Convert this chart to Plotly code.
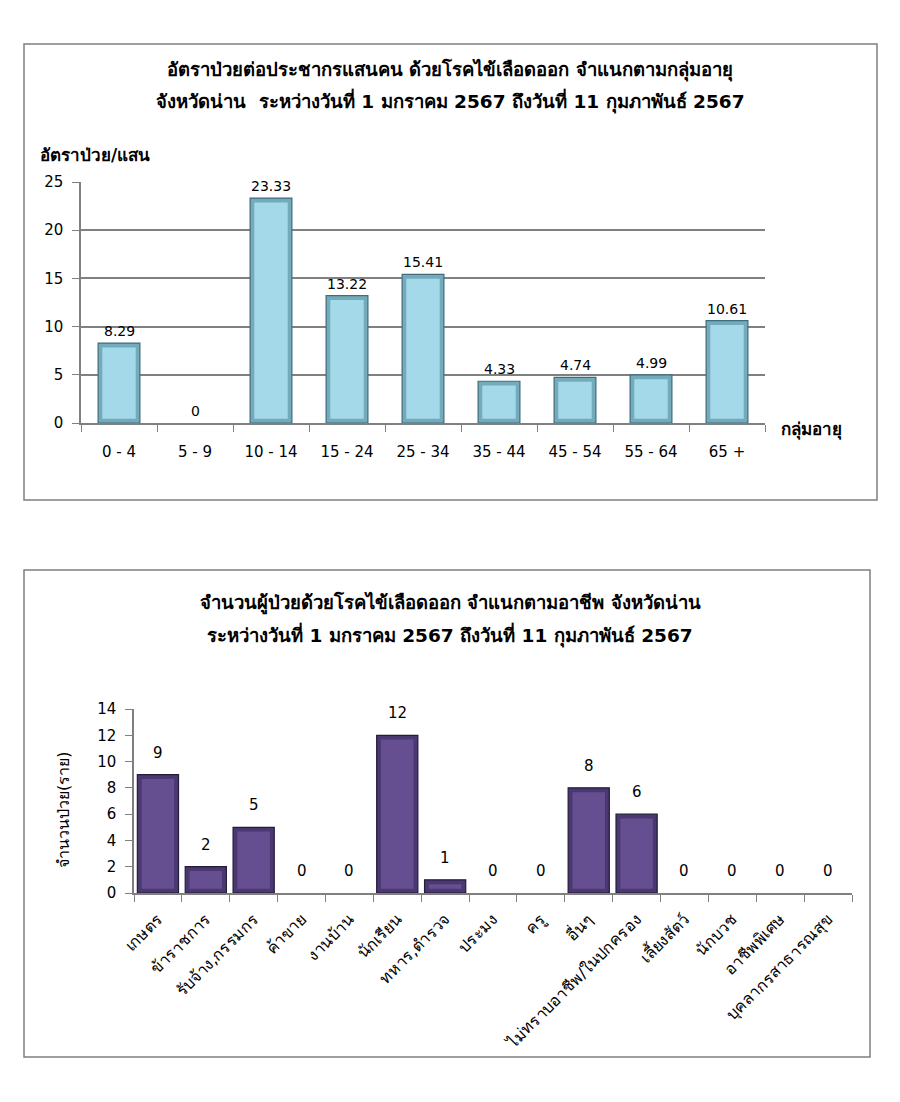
import plotly.graph_objects as go

# ---- data ----
age_groups = ["0 - 4", "5 - 9", "10 - 14", "15 - 24", "25 - 34", "35 - 44", "45 - 54", "55 - 64", "65 +"]
age_rates = [8.29, 0, 23.33, 13.22, 15.41, 4.33, 4.74, 4.99, 10.61]

occupations = ["เกษตร", "ข้าราชการ", "รับจ้าง,กรรมกร", "ค้าขาย", "งานบ้าน", "นักเรียน", "ทหาร,ตำรวจ",
               "ประมง", "ครู", "อื่นๆ", "ไม่ทราบอาชีพ/ในปกครอง", "เลี้ยงสัตว์", "นักบวช",
               "อาชีพพิเศษ", "บุคลากรสาธารณสุข"]
occ_counts = [9, 2, 5, 0, 0, 12, 1, 0, 0, 8, 6, 0, 0, 0, 0]

title1_l1 = "อัตราป่วยต่อประชากรแสนคน ด้วยโรคไข้เลือดออก จำแนกตามกลุ่มอายุ"
title1_l2 = "จังหวัดน่าน  ระหว่างวันที่ 1 มกราคม 2567 ถึงวันที่ 11 กุมภาพันธ์ 2567"
title2_l1 = "จำนวนผู้ป่วยด้วยโรคไข้เลือดออก จำแนกตามอาชีพ จังหวัดน่าน"
title2_l2 = "ระหว่างวันที่ 1 มกราคม 2567 ถึงวันที่ 11 กุมภาพันธ์ 2567"

W, H = 900, 1102
def px(x): return x / W
def py(y): return 1 - y / H

FONT = "Tahoma, DejaVu Sans, Noto Sans, sans-serif"

BEVEL1 = 0.45  # bevel depth in data units of chart 1
BEVEL2 = 0.33  # bevel depth in data units of chart 2

fig = go.Figure()

# chart 1: outer (edge) bar + inner lighter face
fig.add_trace(go.Bar(
    x=age_groups, y=age_rates, xaxis="x", yaxis="y",
    marker=dict(color="#74abbb", line=dict(color="#3f6d7c", width=[1.2 if v > 0 else 0 for v in age_rates])),
    width=0.55, hoverinfo="x+y", showlegend=False,
))
fig.add_trace(go.Bar(
    x=age_groups, y=[v - 2 * BEVEL1 if v > 2 * BEVEL1 else None for v in age_rates],
    base=BEVEL1, xaxis="x", yaxis="y",
    marker=dict(color="#a3d9e8", line=dict(width=0)),
    width=0.44, hoverinfo="skip", showlegend=False,
))
# chart 2
fig.add_trace(go.Bar(
    x=occupations, y=occ_counts, xaxis="x2", yaxis="y2",
    marker=dict(color="#4a3870", line=dict(color="#251b3a", width=[1.2 if v > 0 else 0 for v in occ_counts])),
    width=0.86, hoverinfo="x+y", showlegend=False,
))
fig.add_trace(go.Bar(
    x=occupations, y=[v - 2 * BEVEL2 if v > 2 * BEVEL2 else None for v in occ_counts],
    base=BEVEL2, xaxis="x2", yaxis="y2",
    marker=dict(color="#654f91", line=dict(width=0)),
    width=0.68, hoverinfo="skip", showlegend=False,
))

annotations = []
for c, v in zip(age_groups, age_rates):
    annotations.append(dict(x=c, y=v, xref="x", yref="y", text=f"{v:g}" if v == 0 else f"{v:.2f}",
                            showarrow=False, yanchor="bottom", yshift=2,
                            font=dict(size=14, color="#000", family=FONT)))
for c, v in zip(occupations, occ_counts):
    annotations.append(dict(x=c, y=v, xref="x2", yref="y2", text=str(v),
                            showarrow=False, yanchor="bottom", yshift=11,
                            font=dict(size=15, color="#000", family=FONT)))

# titles
for txt, y in [(title1_l1, 70), (title1_l2, 101), (title2_l1, 603), (title2_l2, 635)]:
    annotations.append(dict(x=px(450), y=py(y), xref="paper", yref="paper", text=f"<b>{txt}</b>",
                            showarrow=False, xanchor="center", yanchor="middle",
                            font=dict(size=18.5, color="#000", family=FONT)))
annotations.append(dict(x=px(38), y=py(155), xref="paper", yref="paper", text="<b>อัตราป่วย/แสน</b>",
                        showarrow=False, xanchor="left", yanchor="middle",
                        font=dict(size=17, color="#000", family=FONT)))
annotations.append(dict(x=px(779), y=py(430), xref="paper", yref="paper", text="<b>กลุ่มอายุ</b>",
                        showarrow=False, xanchor="left", yanchor="middle",
                        font=dict(size=17, color="#000", family=FONT)))
annotations.append(dict(x=px(63), y=py(810), xref="paper", yref="paper", text="จำนวนป่วย(ราย)",
                        showarrow=False, xanchor="center", yanchor="middle", textangle=-90,
                        font=dict(size=16, color="#000", family=FONT)))

shapes = [
    dict(type="rect", xref="paper", yref="paper", x0=px(24), x1=px(877), y0=py(500), y1=py(44),
         line=dict(color="#7f7f7f", width=1.5), fillcolor="rgba(0,0,0,0)", layer="below"),
    dict(type="rect", xref="paper", yref="paper", x0=px(24), x1=px(870), y0=py(1057), y1=py(570),
         line=dict(color="#7f7f7f", width=1.5), fillcolor="rgba(0,0,0,0)", layer="below"),
]

fig.update_layout(
    template="none",
    width=W, height=H, margin=dict(l=0, r=0, t=0, b=0, autoexpand=False),
    paper_bgcolor="white", plot_bgcolor="white",
    font=dict(family=FONT, color="#000"),
    annotations=annotations, shapes=shapes,
    barmode="overlay",
    xaxis=dict(domain=[px(81), px(765)], anchor="y", type="category", automargin=False,
               showline=True, linecolor="#808080", linewidth=1.5,
               ticks="outside", tickson="boundaries", ticklen=7, tickcolor="#808080",
               ticklabelstandoff=14,
               tickfont=dict(size=15, family=FONT), showgrid=False),
    yaxis=dict(domain=[py(423), py(182)], anchor="x", range=[0, 25], dtick=5, automargin=False,
               showline=True, linecolor="#808080", linewidth=1.5,
               ticks="outside", ticklen=7, tickcolor="#808080", ticklabelstandoff=6,
               showgrid=True, gridcolor="#808080", gridwidth=1.5,
               tickfont=dict(size=15, family=FONT), zeroline=False),
    xaxis2=dict(domain=[px(134), px(852)], anchor="y2", type="category", automargin=False,
                showline=True, linecolor="#808080", linewidth=1.5,
                ticks="outside", tickson="boundaries", ticklen=7, tickcolor="#808080",
                ticklabelstandoff=9,
                tickangle=-45, tickfont=dict(size=16, family=FONT), showgrid=False),
    yaxis2=dict(domain=[py(893), py(709)], anchor="x2", range=[0, 14], dtick=2, automargin=False,
                showline=True, linecolor="#808080", linewidth=1.5,
                ticks="outside", ticklen=7, tickcolor="#808080", ticklabelstandoff=6,
                showgrid=False, zeroline=False, tickfont=dict(size=15, family=FONT)),
)

fig.write_html("out.html", config={"displayModeBar": False},
               post_script="document.body.style.margin='0';document.body.style.overflow='hidden';")
